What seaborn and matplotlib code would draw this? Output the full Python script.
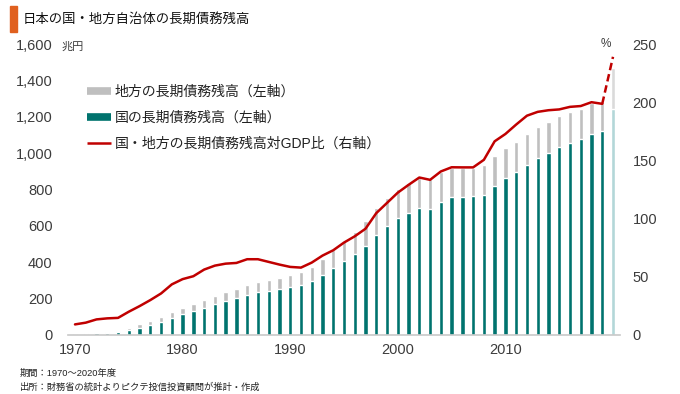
import numpy as np
import pandas as pd
import matplotlib
matplotlib.use('Agg')
import matplotlib.pyplot as plt
from matplotlib.lines import Line2D
from matplotlib.patches import Rectangle
import seaborn as sns

# data (trillion yen / % of GDP), fiscal years 1970-2020, 2020 is an estimate
years = list(range(1970, 2021))
national = [4, 6, 9, 12, 16, 28, 41, 57, 73, 95,
            114, 131, 149, 171, 186, 201, 221, 234, 243, 251,
            263, 276, 298, 331, 366, 408, 446, 491, 551, 600,
            645, 673, 700, 692, 731, 757, 761, 764, 770, 819,
            862, 896, 933, 973, 1003, 1034, 1058, 1078, 1107, 1124,
            1242]
total = [6, 9, 13, 17, 23, 41, 59, 78, 101, 126,
         149, 170, 192, 215, 235, 254, 276, 292, 303, 312,
         329, 344, 373, 419, 470, 516, 566, 626, 697, 752,
         803, 834, 862, 856, 895, 918, 916, 920, 935, 986,
         1030, 1063, 1104, 1142, 1171, 1202, 1224, 1243, 1274, 1273,
         1470]
ratio = [9.1, 10.6, 13.4, 14.3, 14.7, 20.0, 24.8, 30.0, 35.7, 43.5,
         48.0, 50.5, 56.2, 59.6, 61.3, 61.9, 65.1, 65.1, 62.8, 60.5,
         58.5, 57.9, 62.2, 68.2, 72.8, 79.4, 84.8, 91.3, 104.7, 113.5,
         122.3, 129.0, 135.3, 133.3, 140.5, 144.1, 144.0, 144.0, 150.5, 166.4,
         172.7, 180.8, 188.4, 191.7, 193.1, 193.8, 196.0, 196.7, 200.0, 198.6,
         239.0]
kind = ['実績'] * (len(years) - 1) + ['推計']

legend_labels = ['地方の長期債務残高（左軸）', '国の長期債務残高（左軸）',
                 '国・地方の長期債務残高対GDP比（右軸）']
title = '日本の国・地方自治体の長期債務残高'
notes = ['期間：1970～2020年度', '出所：財務省の統計よりピクテ投信投資顧問が推計・作成']

df = pd.DataFrame({'year': years, 'national': national, 'total': total,
                   'ratio': ratio, 'kind': kind})

GRAY, TEAL, RED = '#bfbfbf', '#00736e', '#c00000'
LGRAY, LTEAL = '#dadada', '#b3d7d8'
TXT = '#3c3c3c'

sns.set_theme(style='white')
plt.rcParams['font.family'] = ['Liberation Sans', 'Noto Sans CJK JP', 'DejaVu Sans']

W, H = 680, 394
fig = plt.figure(figsize=(W / 100, H / 100), dpi=100)
ax = fig.add_axes([68 / W, 1 - 335 / H, (620 - 68) / W, (335 - 44) / H])

sns.barplot(data=df, x='year', y='total', hue='kind', native_scale=True,
            palette={'実績': GRAY, '推計': LGRAY}, width=0.4, legend=False,
            saturation=1, ax=ax)
sns.barplot(data=df, x='year', y='national', hue='kind', native_scale=True,
            palette={'実績': TEAL, '推計': LTEAL}, width=0.4, legend=False,
            saturation=1, ax=ax)

ax2 = ax.twinx()
solid = df.iloc[:-1]
est = df.iloc[-2:]
sns.lineplot(data=solid, x='year', y='ratio', color=RED, lw=1.8, ax=ax2)
sns.lineplot(data=est, x='year', y='ratio', color=RED, lw=1.8, ax=ax2,
             linestyle=(0, (3, 1.6)))

ax.set_xlim(1969.35, 2020.65)
ax.set_ylim(0, 1600)
ax2.set_ylim(0, 250)
ax.set_xticks(range(1970, 2020, 10))
ax.set_yticks(range(0, 1601, 200))
ax.set_yticklabels([f'{v:,}' for v in range(0, 1601, 200)])
ax2.set_yticks(range(0, 251, 50))

for a in (ax, ax2):
    a.set_xlabel('')
    a.set_ylabel('')
    for s in ('top', 'left', 'right', 'bottom'):
        a.spines[s].set_visible(False)
    a.grid(False)
ax.spines['bottom'].set_visible(True)
ax.spines['bottom'].set_color('#c8c8c8')
ax.spines['bottom'].set_linewidth(1.2)

ax.tick_params(axis='y', length=0, pad=11, labelsize=10.5, labelcolor=TXT)
ax.tick_params(axis='x', length=0, pad=6, labelsize=10.5, labelcolor=TXT)
ax2.tick_params(axis='y', length=0, pad=9, labelsize=10.5, labelcolor=TXT)

# title with orange marker
fig.patches.append(Rectangle((10 / W, 1 - 32 / H), 7 / W, 26 / H,
                             transform=fig.transFigure, color='#e0601f'))
fig.text(23 / W, 1 - 20 / H, title, fontsize=9.6, va='center', ha='left',
         color='#111111')
fig.text(62 / W, 1 - 47 / H, '兆円', fontsize=8, va='center', ha='left',
         color=TXT)
fig.text(606 / W, 1 - 44 / H, '%', fontsize=8.5, va='center', ha='center',
         color=TXT)

handles = [Line2D([], [], color=GRAY, lw=5.5, solid_capstyle='butt'),
           Line2D([], [], color=TEAL, lw=5.5, solid_capstyle='butt'),
           Line2D([], [], color=RED, lw=1.8, solid_capstyle='butt')]
fig.legend(handles, legend_labels, loc='upper left',
           bbox_to_anchor=(87 / W, 1 - 85 / H), frameon=False, fontsize=10,
           handlelength=1.75, handletextpad=0.25, labelspacing=0.85,
           borderpad=0, borderaxespad=0, labelcolor='#222222')

for i, t in enumerate(notes):
    fig.text(20 / W, 1 - (373 + 14 * i) / H, t, fontsize=6.7, va='center',
             ha='left', color='#222222')

fig.savefig('out.png', dpi=100)
